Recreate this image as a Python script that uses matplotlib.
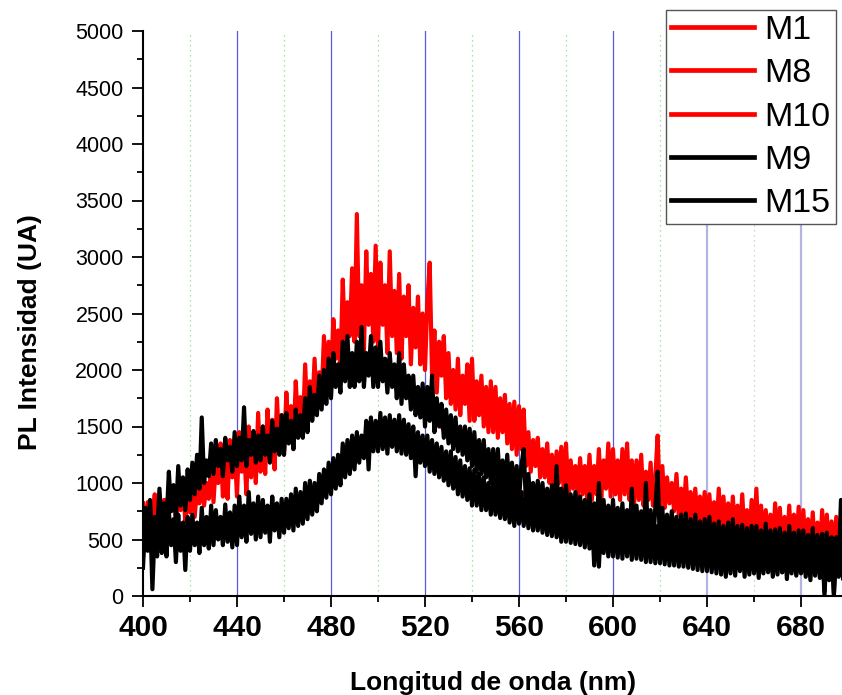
import numpy as np
import matplotlib
matplotlib.use("Agg")
import matplotlib.pyplot as plt
from matplotlib.lines import Line2D

plt.rcParams['font.family'] = ['Liberation Sans', 'DejaVu Sans']

# ---------------- data ----------------
wavelength = np.arange(400, 701, 1)        # nm, 1 nm step
wavelength_coarse = np.arange(400, 701, 5) # nm, 5 nm step

m1 = [
    820, 560, 830, 600, 700, 900, 520, 760, 680, 850,
    640, 920, 780, 980, 640, 880, 760, 1000, 660, 900,
    740, 1020, 700, 960, 820, 1050, 800, 1000, 860, 1150,
    830, 1180, 1000, 1350, 880, 1200, 860, 1380, 1050, 1300,
    880, 1450, 1100, 1320, 900, 1500, 1050, 1440, 1000, 1620,
    1100, 1500, 1080, 1650, 1250, 1560, 1120, 1750, 1300, 1600,
    1250, 1800, 1400, 1680, 1300, 1900, 1500, 1760, 1450, 2050,
    1550, 1900, 1600, 2100, 1650, 1980, 1750, 2300, 1850, 2250,
    1900, 2450, 2100, 2350, 2000, 2800, 2200, 2600, 2300, 2900,
    2250, 3380, 2300, 2750, 2150, 3050, 2400, 2850, 2250, 3100,
    2200, 2950, 2400, 2750, 2150, 3050, 2300, 2700, 2150, 2850,
    2100, 2650, 2300, 2750, 2050, 2550, 2200, 2650, 2050, 2500,
    2000, 2600, 2950, 1950, 2350, 1800, 2250, 1950, 2300, 1750,
    2150, 1700, 2000, 1650, 2100, 1600, 1950, 1700, 2050, 1550,
    2100, 1550, 1900, 1600, 1950, 1500, 1850, 1450, 1900, 1450,
    1850, 1400, 1750, 1450, 1780, 1350, 1700, 1300, 1720, 1250,
    1680, 1300, 1650, 1150, 1450, 1100, 1380, 1150, 1400, 1050,
    1300, 1050, 1350, 1000, 1250, 950, 1280, 1000, 1320, 950,
    1350, 900, 1200, 950, 1150, 880, 1220, 900, 1150, 850,
    1250, 850, 1150, 900, 1300, 870, 1200, 950, 1350, 880,
    1300, 900, 1200, 850, 1300, 900, 1350, 850, 1200, 820,
    1200, 850, 1250, 800, 1100, 850, 1180, 800, 1050, 1420,
    800, 1150, 780, 1050, 820, 1000, 750, 1080, 720, 950,
    720, 1050, 700, 920, 680, 950, 650, 880, 640, 920,
    620, 900, 600, 830, 580, 950, 560, 880, 560, 820,
    540, 880, 520, 800, 530, 900, 500, 760, 480, 850,
    480, 950, 470, 800, 460, 760, 450, 720, 440, 820,
    430, 780, 420, 700, 410, 800, 400, 720, 400, 790,
    380, 760, 380, 680, 370, 740, 360, 650, 350, 760,
    350, 720, 340, 660, 340, 700, 330, 640, 340, 680, 330,
]

m8 = [600, 700, 850, 950, 1000, 1100, 1200, 1250, 1300, 1300, 1330, 1380, 1420,
      1500, 1620, 1750, 1900, 1950, 2000, 2000, 2000, 1950, 1830, 1720, 1650,
      1550, 1420, 1330, 1250, 1170, 1100, 1000, 930, 870, 820, 800, 760, 720,
      690, 660, 630, 610, 600, 590, 570, 550, 530, 510, 490, 460, 440, 420,
      400, 390, 370, 360, 340, 330, 320, 310, 300]

m10 = [480, 500, 520, 520, 550, 570, 600, 620, 660, 680, 690, 690, 700, 740,
       830, 920, 1030, 1120, 1250, 1350, 1420, 1430, 1390, 1320, 1230, 1160,
       1080, 1000, 920, 860, 800, 760, 730, 700, 660, 630, 600, 580, 550, 510,
       490, 480, 470, 450, 440, 420, 400, 390, 370, 350, 320, 310, 300, 295,
       285, 280, 270, 260, 250, 240, 240]

m9 = [
    350, 780, 500, 850, 400, 700, 560, 950, 600, 820,
    640, 1100, 750, 980, 700, 1150, 800, 1050, 760, 1120,
    850, 1180, 900, 1250, 950, 1580, 1000, 1200, 1060, 1350,
    1080, 1380, 1150, 1300, 1060, 1400, 1200, 1320, 1100, 1450,
    1150, 1400, 1200, 1670, 1150, 1380, 1250, 1460, 1180, 1420,
    1200, 1500, 1250, 1420, 1180, 1550, 1280, 1480, 1250, 1600,
    1250, 1620, 1350, 1550, 1300, 1650, 1400, 1600, 1400, 1750,
    1450, 1850, 1550, 1780, 1600, 1950, 1650, 2000, 1700, 2100,
    1750, 2150, 1850, 2050, 1800, 2250, 1900, 2300, 1850, 2150,
    1850, 2250, 1900, 2380, 1850, 2150, 1950, 2300, 1850, 2200,
    1850, 2250, 1900, 2100, 1800, 2150, 1850, 2050, 1750, 2150,
    1700, 2050, 1750, 1950, 1650, 1950, 1600, 1850, 1580, 1880,
    1500, 1850, 1550, 1950, 1450, 1750, 1500, 1700, 1400, 1650,
    1350, 1600, 1300, 1580, 1280, 1500, 1250, 1500, 1200, 1480,
    1150, 1450, 1100, 1380, 1080, 1380, 1050, 1300, 1000, 1300,
    980, 1300, 950, 1200, 920, 1250, 900, 1180, 870, 1150,
    850, 1150, 1300, 800, 1080, 780, 1000, 760, 1020, 720,
    1000, 700, 950, 720, 980, 680, 1150, 660, 950, 640,
    980, 640, 900, 620, 920, 600, 880, 600, 850, 580,
    900, 560, 820, 580, 1000, 540, 850, 540, 800, 520,
    850, 520, 780, 500, 820, 480, 760, 480, 950, 470,
    800, 460, 750, 460, 1000, 450, 760, 440, 780, 1100,
    440, 780, 430, 720, 420, 750, 410, 700, 400, 720,
    390, 730, 380, 680, 370, 720, 360, 660, 350, 680,
    340, 700, 330, 640, 310, 660, 300, 620, 290, 650,
    280, 680, 260, 620, 290, 630, 250, 600, 280, 620,
    250, 620, 280, 580, 230, 640, 260, 580, 220, 590,
    250, 600, 210, 560, 260, 620, 230, 560, 200, 580,
    240, 580, 210, 540, 250, 600, 180, 540, 220, 550,
    40, 560, 200, 520, 20, 520, 220, 850, 160, 520, 120,
]

m15 = [
    250, 700, 400, 750, 60, 600, 350, 800, 380, 650,
    350, 750, 450, 680, 300, 720, 400, 650, 230, 700,
    400, 720, 450, 650, 380, 780, 450, 700, 420, 800,
    450, 760, 500, 700, 450, 810, 480, 740, 430, 800,
    450, 880, 520, 800, 480, 920, 550, 820, 500, 880,
    520, 850, 560, 800, 480, 880, 580, 820, 520, 860,
    560, 860, 600, 900, 580, 950, 620, 920, 640, 1000,
    680, 1020, 720, 1000, 750, 1080, 820, 1120, 870, 1180,
    900, 1220, 950, 1250, 980, 1350, 1050, 1380, 1080, 1420,
    1120, 1450, 1180, 1420, 1220, 1550, 1120, 1580, 1280, 1550,
    1280, 1620, 1300, 1580, 1260, 1600, 1320, 1560, 1280, 1600,
    1260, 1560, 1250, 1520, 1220, 1500, 1060, 1450, 1180, 1420,
    1150, 1420, 1100, 1380, 1080, 1350, 1050, 1320, 1020, 1280,
    980, 1280, 950, 1230, 900, 1200, 880, 1150, 850, 1130,
    800, 1120, 800, 1080, 760, 1050, 760, 1000, 720, 1000,
    720, 980, 690, 960, 680, 950, 650, 920, 620, 940,
    640, 920, 620, 880, 600, 880, 580, 850, 580, 840,
    560, 840, 540, 820, 530, 790, 520, 780, 480, 800,
    480, 800, 470, 760, 460, 750, 450, 730, 430, 740,
    420, 730, 270, 700, 260, 700, 380, 700, 350, 690,
    350, 700, 340, 680, 330, 670, 350, 680, 320, 650,
    330, 650, 320, 660, 300, 630, 300, 650, 290, 620,
    290, 640, 280, 620, 270, 610, 270, 620, 260, 600,
    260, 590, 250, 610, 240, 580, 230, 590, 220, 570,
    220, 570, 210, 550, 200, 560, 190, 540, 170, 550,
    200, 530, 180, 520, 220, 510, 170, 530, 190, 500,
    200, 510, 160, 490, 200, 500, 210, 480, 170, 490,
    190, 470, 210, 490, 150, 460, 200, 470, 180, 450,
    200, 460, 170, 450, 140, 440, 190, 450, 160, 430,
    10, 440, 140, 420, 5, 430, 170, 410, 120, 390, 150,
]

labels = ["M1", "M8", "M10", "M9", "M15"]
x_major = [400, 440, 480, 520, 560, 600, 640, 680]
x_minor = [420, 460, 500, 540, 580, 620, 660, 700]
y_major = [0, 500, 1000, 1500, 2000, 2500, 3000, 3500, 4000, 4500, 5000]

# ---------------- figure ----------------
W, H = 842, 695
fig = plt.figure(figsize=(W / 100, H / 100), dpi=100)
ax_left, ax_right, ax_top, ax_bot = 143, 848, 31, 596
ax = fig.add_axes([ax_left / W, 1 - ax_bot / H, (ax_right - ax_left) / W, (ax_bot - ax_top) / H])

RED = '#ff0000'
BLK = '#000000'
LW = 3.0

# grid lines (drawn behind data)
for xv in x_major[1:]:
    if xv >= 640:
        ax.axvline(xv, color='#b4b4e2', lw=1.6, zorder=0)
    else:
        ax.axvline(xv, color='#5b5bd8', lw=0.9, zorder=0)
for xv in x_minor:
    c = '#c8c8c8' if xv >= 660 else '#8fd98f'
    ax.axvline(xv, color=c, lw=0.9, ls=(0, (1, 3)), zorder=0)

ax.plot(wavelength, m1, color=RED, lw=LW, zorder=2)
ax.plot(wavelength_coarse, m8, color=RED, lw=LW, zorder=2)
ax.plot(wavelength_coarse, m10, color=RED, lw=LW, zorder=2)
ax.plot(wavelength, m9, color=BLK, lw=LW, zorder=3)
ax.plot(wavelength, m15, color=BLK, lw=LW, zorder=3)

ax.set_xlim(400, 700)
ax.set_ylim(0, 5000)
ax.set_xticks(x_major)
ax.set_xticks(x_minor, minor=True)
ax.set_yticks(y_major)
ax.set_yticks([250 + 500 * i for i in range(10)], minor=True)

for s in ['top', 'right']:
    ax.spines[s].set_visible(False)
for s in ['left', 'bottom']:
    ax.spines[s].set_linewidth(1.5)

ax.tick_params(axis='both', which='major', direction='out', length=8, width=1.3)
ax.tick_params(axis='both', which='minor', direction='out', length=4.5, width=1.3)
ax.tick_params(axis='y', which='major', labelsize=15.5, pad=6)
ax.tick_params(axis='x', which='major', labelsize=21.5, pad=5)
for t in ax.get_xticklabels():
    t.set_fontweight('bold')

ax.set_xlabel('Longitud de onda (nm)', fontsize=19, fontweight='bold')
ax.set_ylabel('PL Intensidad (UA)', fontsize=19, fontweight='bold')
ax.xaxis.label.set_va('center')
ax.yaxis.label.set_va('center')
ax.xaxis.set_label_coords((493 - ax_left) / (ax_right - ax_left), (ax_bot - 683) / (ax_bot - ax_top))
ax.yaxis.set_label_coords((30 - ax_left) / (ax_right - ax_left), (ax_bot - 332) / (ax_bot - ax_top))

# legend
colors = [RED, RED, RED, BLK, BLK]
handles = [Line2D([0], [0], color=c, lw=3.4) for c in colors]
leg = fig.legend(handles, labels, loc='upper left',
                 bbox_to_anchor=(666 / W, 1 - 10 / H), bbox_transform=fig.transFigure,
                 fontsize=24.5, handlelength=2.45, handletextpad=0.3, borderpad=0.15,
                 labelspacing=0.36, borderaxespad=0, fancybox=False, framealpha=1,
                 edgecolor='#555555')
leg.get_frame().set_linewidth(1.0)

fig.savefig('out.png', dpi=100)
